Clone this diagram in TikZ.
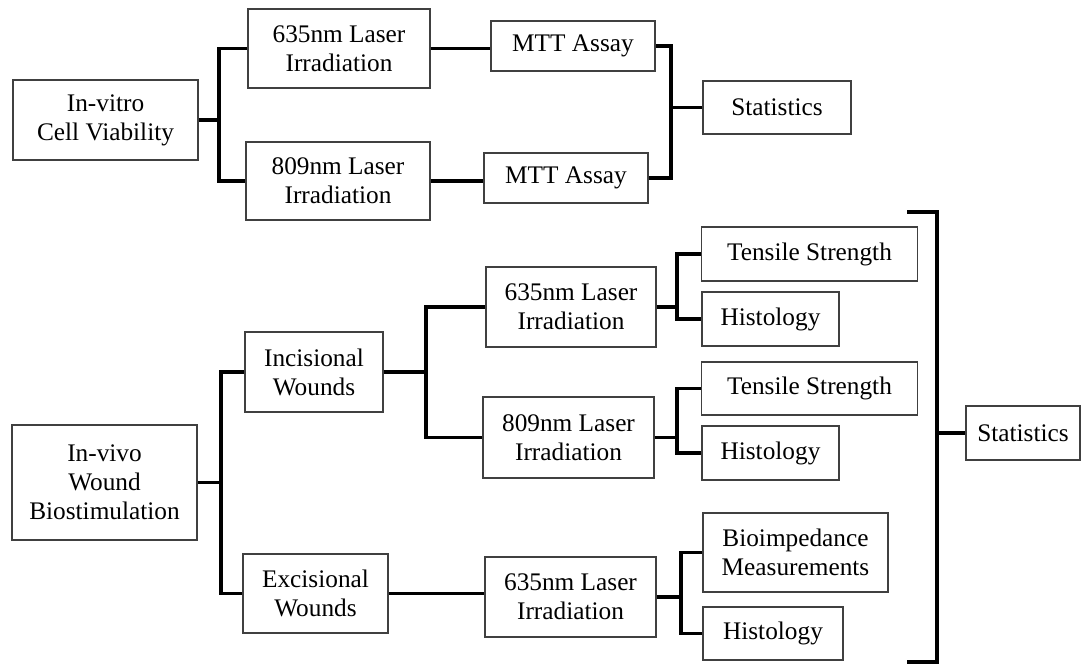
\documentclass[tikz,border=0pt]{standalone}
\usepackage{fontspec}
\setmainfont{Liberation Serif}
\usepackage{tikz}
\usetikzlibrary{positioning}

\begin{document}
\begin{tikzpicture}[
    x=0.02cm, y=-0.02cm,
    box/.style={draw=black!75, line width=0.9pt, inner sep=2pt, align=center, font=\fontsize{14.4}{16.6}\selectfont},
    link/.style={line width=2.1pt, line join=miter}
]
\useasboundingbox (0,0) rectangle (1083,664);

% in-vitro part
\node[box, minimum width=3.7cm, minimum height=1.6cm] (vitro) at (105.5,120) {In-vitro\\Cell Viability};
\node[box, minimum width=3.64cm, minimum height=1.58cm] (lasA) at (339,48.5) {635nm Laser\\Irradiation};
\node[box, minimum width=3.68cm, minimum height=1.56cm] (lasB) at (338,181) {809nm Laser\\Irradiation};
\node[box, minimum width=3.28cm, minimum height=1cm] (mttA) at (573,46) {MTT Assay};
\node[box, minimum width=3.28cm, minimum height=1cm] (mttB) at (566,178) {MTT Assay};
\node[box, minimum width=2.96cm, minimum height=1.06cm] (statA) at (777,107.5) {Statistics};

\draw[link] (vitro.east) -- ++(20,0) |- (lasA.west);
\draw[link] (vitro.east) -- ++(20,0) |- (lasB.west);
\draw[link] (lasA.east) -- (lasA.east -| mttA.west);
\draw[link] (lasB.east) -- (lasB.east -| mttB.west);
\draw[link] (statA.west) -- ++(-31,0) |- (mttA.east);
\draw[link] (statA.west) -- ++(-31,0) |- (mttB.east);

% in-vivo part
\node[box, minimum width=3.7cm, minimum height=2.3cm] (vivo) at (104.5,482.5) {In-vivo\\Wound\\Biostimulation};
\node[box, minimum width=2.76cm, minimum height=1.6cm] (inc) at (314,372) {Incisional\\Wounds};
\node[box, minimum width=2.9cm, minimum height=1.58cm] (exc) at (315.5,593.5) {Excisional\\Wounds};
\node[box, minimum width=3.4cm, minimum height=1.6cm] (incA) at (571,307) {635nm Laser\\Irradiation};
\node[box, minimum width=3.42cm, minimum height=1.62cm] (incB) at (568.5,437.5) {809nm Laser\\Irradiation};
\node[box, minimum width=3.42cm, minimum height=1.6cm] (excA) at (570.5,597) {635nm Laser\\Irradiation};
\node[box, minimum width=4.32cm, minimum height=1.08cm] (tenA) at (809.5,254) {Tensile Strength};
\node[box, minimum width=2.74cm, minimum height=1.08cm] (hisA) at (770.5,319) {Histology};
\node[box, minimum width=4.32cm, minimum height=1.06cm] (tenB) at (809.5,388.5) {Tensile Strength};
\node[box, minimum width=2.74cm, minimum height=1.08cm] (hisB) at (770.5,453) {Histology};
\node[box, minimum width=3.7cm, minimum height=1.58cm] (bio) at (795.5,552.5) {Bioimpedance\\Measurements};
\node[box, minimum width=2.8cm, minimum height=1.06cm] (hisC) at (773,633.5) {Histology};
\node[box, minimum width=2.28cm, minimum height=1.08cm] (statB) at (1023,433) {Statistics};

\draw[link] (vivo.east) -- ++(23,0) |- (inc.west);
\draw[link] (vivo.east) -- ++(23,0) |- (exc.west);
\draw[link] (inc.east) -- ++(42,0) |- (incA.west);
\draw[link] (inc.east) -- ++(42,0) |- (incB.west);
\draw[link] (exc.east) -- (exc.east -| excA.west);
\draw[link] (incA.east) -- ++(20,0) |- (tenA.west);
\draw[link] (incA.east) -- ++(20,0) |- (hisA.west);
\draw[link] (incB.east) -- ++(22,0) |- (tenB.west);
\draw[link] (incB.east) -- ++(22,0) |- (hisB.west);
\draw[link] (excA.east) -- ++(24,0) |- (bio.west);
\draw[link] (excA.east) -- ++(24,0) |- (hisC.west);

% big bracket
\coordinate (brtop) at (907,212);
\coordinate (brbot) at (907,662);
\draw[link] (brtop) -- ++(30,0) |- (brbot);
\draw[link] (statB.west) -- ++(-29,0);
\end{tikzpicture}
\end{document}
